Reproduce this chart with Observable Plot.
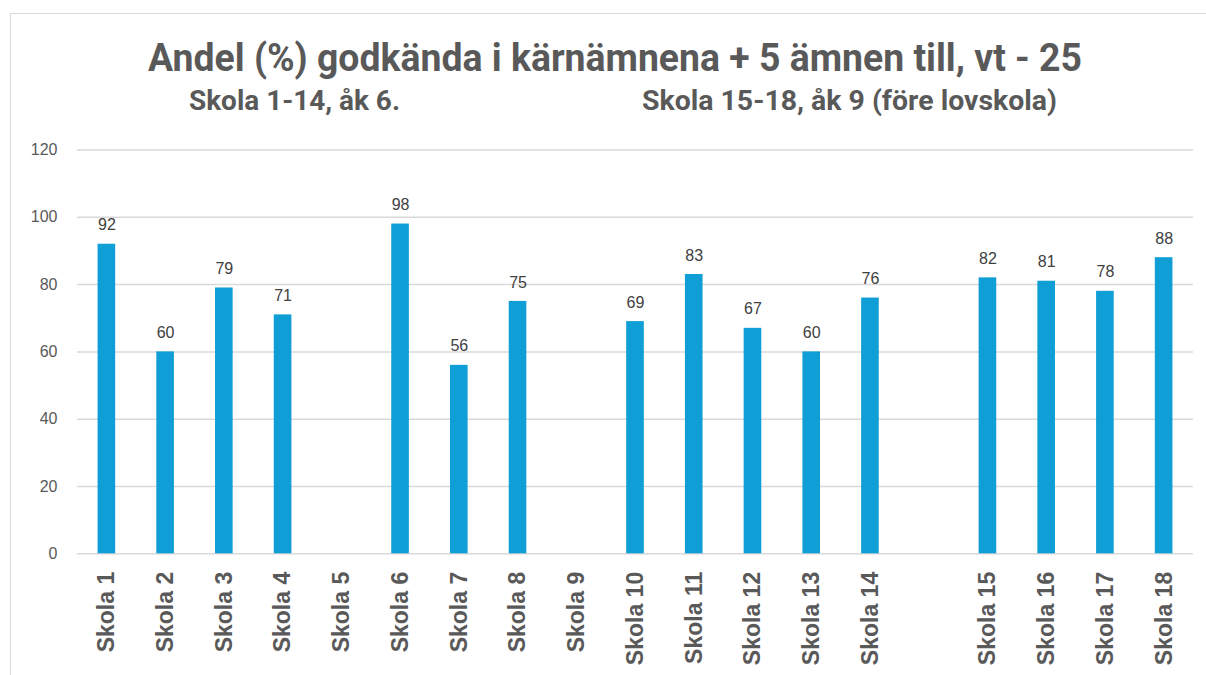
<!DOCTYPE html>
<html><head><meta charset="utf-8">
<script src="https://cdn.jsdelivr.net/npm/d3@7"></script>
<script src="https://cdn.jsdelivr.net/npm/@observablehq/plot@0.6"></script>
<style>
html,body{margin:0;padding:0;background:#fff;overflow:hidden;width:1206px;height:675px;}
#frame{position:absolute;left:10px;top:13px;width:1210px;height:700px;border:1.5px solid #d9d9d9;box-sizing:border-box;}
.t{position:absolute;white-space:nowrap;font-family:Roboto,"Liberation Sans",sans-serif;font-weight:700;color:#595959;line-height:1;transform-origin:0 0;margin:0;}
#chart{position:absolute;left:0;top:130px;}
#chart svg [aria-label="x-axis tick label"] text{font-weight:bold;}
</style></head>
<body>
<div id="frame"></div>
<h1 id="title" class="t" style="font-size:38.5px;left:148px;top:38.5px">Andel (%) godkända i kärnämnena + 5 ämnen till, vt - 25</h1>
<h2 id="sub1" class="t" style="font-size:27px;left:189px;top:88px">Skola 1-14, åk 6.</h2>
<h2 id="sub2" class="t" style="font-size:27px;left:642px;top:88px">Skola 15-18, åk 9 (före lovskola)</h2>
<div id="chart"></div>
<script>
const schools = ["Skola 1","Skola 2","Skola 3","Skola 4","Skola 5","Skola 6","Skola 7","Skola 8","Skola 9",
  "Skola 10","Skola 11","Skola 12","Skola 13","Skola 14","Skola 15","Skola 16","Skola 17","Skola 18"];
const values = [92,60,79,71,null,98,56,75,null,69,83,67,60,76,82,81,78,88];
const gapSlot = " ";
const yTicks = [0,20,40,60,80,100,120];

// fit headline widths to the reference
[["title",934],["sub1",211],["sub2",415]].forEach(([id,w])=>{
  const el=document.getElementById(id);
  const cw=el.getBoundingClientRect().width;
  el.style.transform=`scaleX(${w/cw})`;
});

const domain = [...schools.slice(0,14), gapSlot, ...schools.slice(14)];
const data = schools.map((s,i)=>({school:s, value:values[i]})).filter(d=>d.value!=null);

const chart = Plot.plot({
  width:1206, height:545,
  marginTop:19.5, marginBottom:121.7, marginLeft:77, marginRight:13,
  style:{background:"transparent", overflow:"visible"},
  x:{domain, paddingInner:0.7, paddingOuter:0.35, round:false, label:null},
  y:{domain:[0,120], label:null},
  marks:[
    Plot.gridY(yTicks,{stroke:"#d9d9d9", strokeOpacity:1, strokeWidth:1.5}),
    Plot.barY(data,{x:"school", y:"value", fill:"#0f9ed5"}),
    Plot.text(data,{x:"school", y:"value", text:d=>String(d.value), dy:-19, fill:"#404040", fontSize:16, fontFamily:"Liberation Sans, Arial, sans-serif"}),
    Plot.axisY(yTicks,{tickSize:0, tickPadding:20, fontSize:16, fill:"#595959", fontFamily:"Liberation Sans, Arial, sans-serif", label:null}),
    Plot.axisX({tickSize:0, tickPadding:18, tickRotate:-90, fontSize:23, fontWeight:"bold", fill:"#595959", fontFamily:"Liberation Sans, Arial, sans-serif", label:null})
  ]
});
document.getElementById("chart").appendChild(chart);
</script>
</body></html>
